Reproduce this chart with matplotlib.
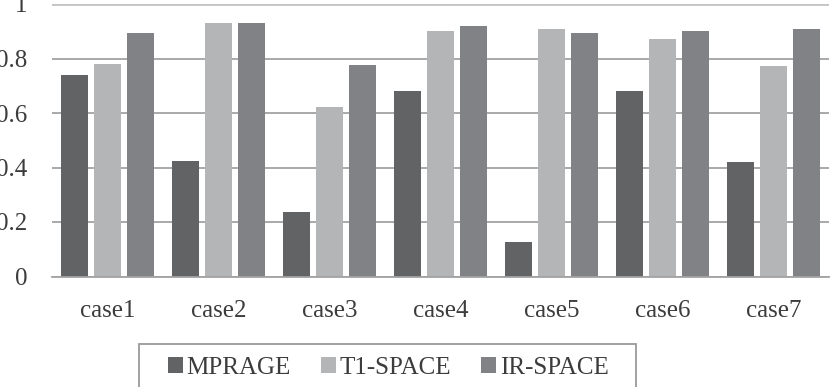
import matplotlib
matplotlib.use("Agg")
import matplotlib.pyplot as plt
import numpy as np
from matplotlib.patches import Rectangle

categories = ["case1", "case2", "case3", "case4", "case5", "case6", "case7"]
series_names = ["MPRAGE", "T1-SPACE", "IR-SPACE"]
mprage = [0.74, 0.425, 0.238, 0.681, 0.128, 0.682, 0.42]
t1_space = [0.779, 0.929, 0.623, 0.902, 0.909, 0.873, 0.771]
ir_space = [0.892, 0.929, 0.776, 0.920, 0.892, 0.902, 0.909]
yticks = [0, 0.2, 0.4, 0.6, 0.8, 1]
ytick_labels = ["0", "0.2", "0.4", "0.6", "0.8", "1"]

colors = ["#626365", "#b4b5b6", "#818285"]
text_color = "#3c3c3c"
font = ["Liberation Serif", "DejaVu Serif"]

W, H = 836, 387
fig = plt.figure(figsize=(W / 100, H / 100), dpi=100)
ax = fig.add_axes([52 / W, 1 - 276.5 / H, (829 - 52) / W, (276.5 - 4) / H])

x = np.arange(len(categories))
width = 0.24
offset = 0.297
for i, (vals, name) in enumerate(zip([mprage, t1_space, ir_space], series_names)):
    ax.bar(x + (i - 1) * offset, vals, width, color=colors[i], label=name, zorder=3)

ax.set_xlim(-0.5, len(categories) - 0.5)
ax.set_ylim(0, 1)
ax.set_yticks(yticks)
ax.set_yticklabels(ytick_labels)
ax.set_xticks(x)
ax.set_xticklabels(categories)
for lab in ax.get_xticklabels() + ax.get_yticklabels():
    lab.set_family(font)
    lab.set_fontsize(18)
    lab.set_color(text_color)
ax.tick_params(axis="y", length=0, pad=18)
ax.tick_params(axis="x", length=0, pad=17)

ax.grid(axis="y", color="#a3a3a3", linewidth=1.3, zorder=0)
gl = ax.get_ygridlines()
gl[-1].set_color("#c4c4c4")
gl[-1].set_linewidth(2.0)
for s in ["left", "right", "top"]:
    ax.spines[s].set_visible(False)
ax.spines["bottom"].set_color("#a3a3a3")
ax.spines["bottom"].set_linewidth(1.3)
ax.spines["bottom"].set_zorder(4)

# legend frame
fig.patches.append(Rectangle((139 / W, 1 - 392 / H), (636 - 139) / W, (392 - 344) / H,
                             transform=fig.transFigure, facecolor="white",
                             edgecolor="#9a9a9a", linewidth=1.3, zorder=1))
leg = fig.legend(loc="center", bbox_to_anchor=(388 / W, 1 - 368 / H), ncol=3,
                 frameon=False, prop={"family": font, "size": 18},
                 handlelength=0.6, handleheight=0.6, handletextpad=0.15,
                 columnspacing=1.2, borderpad=0)
for t in leg.get_texts():
    t.set_color(text_color)
leg.set_zorder(5)

fig.savefig("out.png", dpi=100)
